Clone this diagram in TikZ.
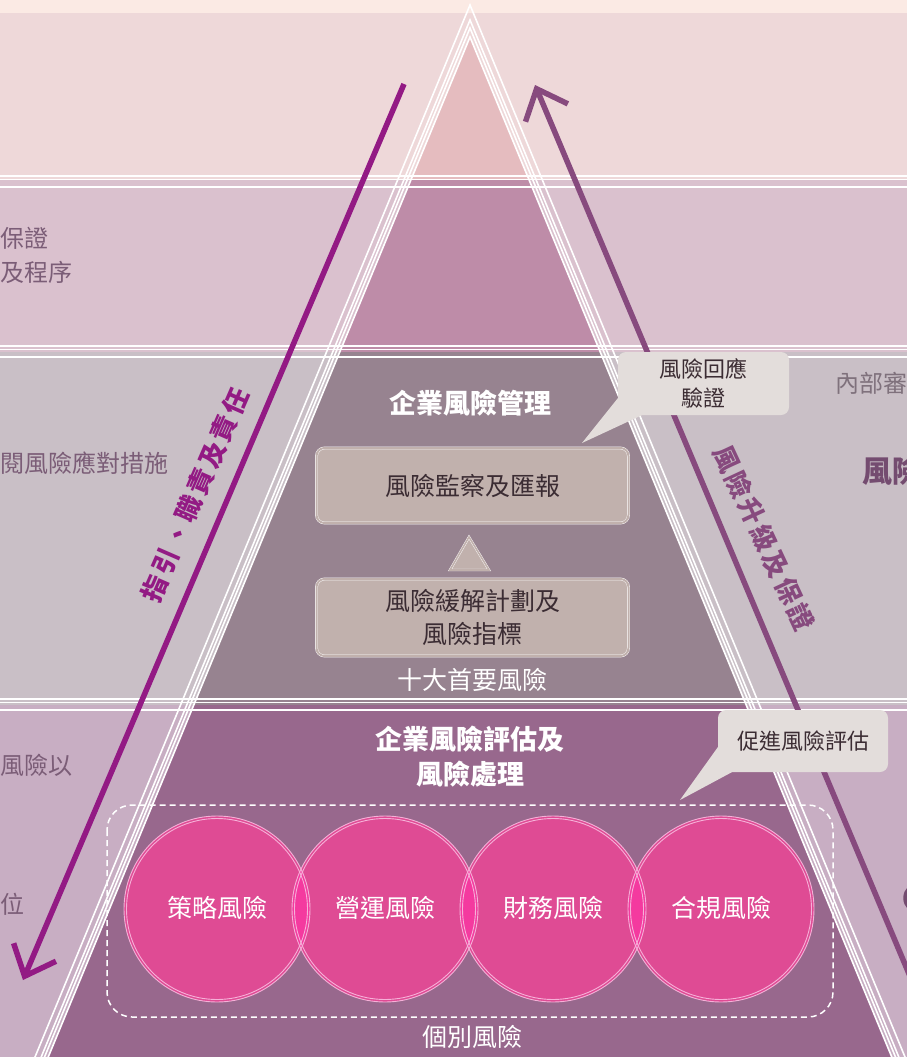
\documentclass[tikz,border=0pt]{standalone}
\usepackage{fontspec}
\newfontfamily\cjk{Noto Sans CJK TC}
\newfontfamily\cjkspaced{Noto Sans CJK TC}[LetterSpace=12]
\usetikzlibrary{arrows.meta}

\definecolor{topstrip}{HTML}{FBEAE4}
\definecolor{bandA}{HTML}{EED8D9}
\definecolor{bandB}{HTML}{DAC1CE}
\definecolor{bandC}{HTML}{C9BFC6}
\definecolor{bandD}{HTML}{C8AEC3}
\definecolor{pyrA}{HTML}{E5BCBF}
\definecolor{pyrB}{HTML}{BE8CA8}
\definecolor{pyrC}{HTML}{978390}
\definecolor{pyrD}{HTML}{98688D}
\definecolor{boxfill}{HTML}{C1B1AD}
\definecolor{calloutfill}{HTML}{E3DDDB}
\definecolor{sidetext}{HTML}{7B5D77}
\definecolor{sidedark}{HTML}{744C70}
\definecolor{greytext}{HTML}{7F717C}
\definecolor{guidearrow}{HTML}{931A84}
\definecolor{escalarrow}{HTML}{874A7E}
\definecolor{riskpink}{HTML}{DF4B94}
\definecolor{risklens}{HTML}{F43A9F}
\definecolor{riskline}{HTML}{F6B0D8}
\definecolor{darktext}{HTML}{3B2C33}

\tikzset{
  sidelabel/.style={text=sidetext, inner sep=0pt, anchor=west, font=\cjk\fontsize{24}{28}\selectfont},
  riskbox/.style={draw=white, double=boxfill, double distance=2pt, fill=boxfill, rounded corners=8pt,
    minimum width=312pt, minimum height=75pt, text=darktext, align=center, font=\cjk\fontsize{25}{33}\selectfont},
  calloutbox/.style={fill=calloutfill, rounded corners=8pt, text=darktext, align=center,
    font=\cjk\fontsize{22}{29}\selectfont},
  pyrtitle/.style={text=white, align=center, font=\cjk\bfseries\fontsize{27}{35}\selectfont},
  pyrlabel/.style={text=white, font=\cjk\fontsize{25}{30}\selectfont},
  arrowlabel/.style={inner sep=1pt, font=\cjkspaced\bfseries\fontsize{26}{30}\selectfont},
  bigarrow/.style={line width=5.5pt, -{Straight Barb[length=26pt,width=46pt]}},
}

\begin{document}
\begin{tikzpicture}[x=1pt, y=-1pt]
  \useasboundingbox (0,0) rectangle (907,1057);
  \clip (0,0) rectangle (907,1057);

  % background bands
  \fill[topstrip] (0,0) rectangle (907,13);
  \fill[bandA] (0,13) rectangle (907,180);
  \fill[bandB] (0,180) rectangle (907,352);
  \fill[bandC] (0,352) rectangle (907,705);
  \fill[bandD] (0,705) rectangle (907,1057);

  % pyramid
  \begin{scope}
    \clip (470,37) -- (47,1060) -- (893,1060) -- cycle;
    \fill[pyrA] (0,0) rectangle (907,180);
    \fill[pyrB] (0,180) rectangle (907,352);
    \fill[pyrC] (0,352) rectangle (907,705);
    \fill[pyrD] (0,705) rectangle (907,1060);
  \end{scope}
  \foreach \a in {5,20,28,37}
    \draw[white, line width=1.6pt] ({470-0.4135*(1060-\a)},1060) -- (470,\a) -- ({470+0.4135*(1060-\a)},1060);

  % band separators
  \foreach \s in {176,346,699}
    \draw[white, line width=1.3pt] (0,\s) -- (907,\s) (0,\s+3.5) -- (907,\s+3.5) (0,\s+11) -- (907,\s+11);

  % side texts
  \node[sidelabel] (assure) at (0,238) {保證};
  \node[sidelabel] (proc) at (0,272) {及程序};
  \node[sidelabel] (review) at (0,463) {閱風險應對措施};
  \node[sidelabel] (riskto) at (0,765) {風險以};
  \node[sidelabel] (unit) at (0,904) {位};
  \node[sidelabel, text=greytext] (audit) at (835,383) {內部審};
  \node[sidelabel, text=sidedark, font=\cjk\bfseries\fontsize{30}{34}\selectfont] (riskright) at (862,471) {風險};
  \draw[sidedark, line width=3.5pt] (919,898) circle (14);

  % arrows
  \coordinate (guidetop) at (404,84);
  \coordinate (guidetip) at (23,980);
  \coordinate (escalfoot) at (920,1000);
  \coordinate (escaltip) at (535,85);
  \draw[guidearrow, bigarrow] (guidetop) -- (guidetip);
  \draw[escalarrow, bigarrow] (escalfoot) -- (escaltip);
  \node[arrowlabel, text=guidearrow, rotate=66.5] (guidetext) at (195,495) {指引、職責及責任};
  \node[arrowlabel, text=escalarrow, rotate=-65] (escaltext) at (764,538) {風險升級及保證};

  % enterprise risk management
  \node[pyrtitle] (ermtitle) at (470,403) {企業風險管理};
  \node[riskbox] (monitor) at (472.5,485.5) {風險監察及匯報};
  \draw[white, double=boxfill, double distance=1.6pt, fill=boxfill] (469,537) -- (489,570) -- (450,570) -- cycle;
  \node[riskbox, minimum height=77pt] (mitigate) at (472.5,617.5) {風險緩解計劃及\\風險指標};
  \node[pyrlabel] (topten) at (472,680) {十大首要風險};

  % risk assessment
  \node[pyrtitle] (asstitle) at (470,757) {企業風險評估及\\風險處理};
  \draw[white, line width=1.5pt, dash pattern=on 6pt off 4pt, rounded corners=25pt] (107,805) rectangle (833,1017);
  \foreach \cx in {217,385,553,721}
    \fill[riskpink] (\cx,909) circle (93);
  \foreach \cx in {217,385,553}
  {
    \begin{scope}
      \clip (\cx,909) circle (93);
      \fill[risklens] (\cx+168,909) circle (93);
    \end{scope}
  }
  \foreach \cx in {217,385,553,721}
    \draw[riskline, line width=0.9pt] (\cx,909) circle (93) (\cx,909) circle (90.5);
  \node[pyrlabel] (strat) at (217,908) {策略風險};
  \node[pyrlabel] (oper) at (385,908) {營運風險};
  \node[pyrlabel] (fin) at (553,908) {財務風險};
  \node[pyrlabel] (comp) at (721,908) {合規風險};
  \node[pyrlabel] (single) at (472,1037) {個別風險};

  % callouts
  \node[calloutbox, minimum width=171pt, minimum height=63pt] (verify) at (703.5,383.5) {風險回應\\驗證};
  \coordinate (verifytip) at (582,443);
  \fill[calloutfill] ([yshift=17pt]verify.south west) -- (verifytip) -- ([xshift=24pt]verify.south west) -- cycle;
  \node[calloutbox, minimum width=170pt, minimum height=62pt] (promote) at (803,741) {促進風險評估};
  \coordinate (promotetip) at (680,800);
  \fill[calloutfill] ([yshift=25pt]promote.south west) -- (promotetip) -- ([xshift=14pt]promote.south west) -- cycle;
\end{tikzpicture}
\end{document}
